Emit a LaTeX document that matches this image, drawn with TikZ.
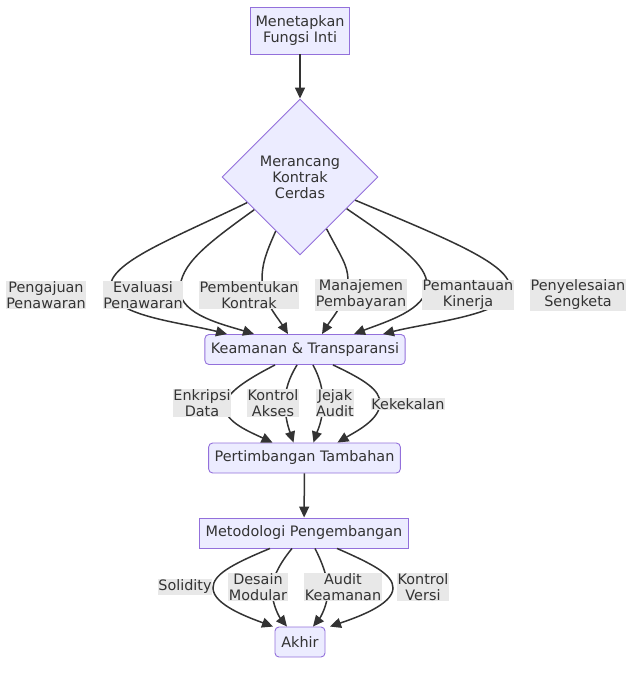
\documentclass[tikz,border=0pt]{standalone}
\usepackage{fontspec}
\setmainfont{DejaVu Sans}
\usetikzlibrary{arrows.meta,positioning,shapes.geometric}
\definecolor{boxfill}{HTML}{ECECFF}
\definecolor{boxline}{HTML}{9370DB}
\definecolor{ink}{HTML}{333333}
\definecolor{tagfill}{HTML}{E8E8E8}
\begin{document}
\begin{tikzpicture}[
  x=1pt, y=-1pt,
  font=\fontsize{14.4}{16}\selectfont, text=ink,
  block/.style={draw=boxline, fill=boxfill, line width=0.9pt, inner xsep=6pt, minimum height=30pt, align=center},
  soft/.style={block, rounded corners=4pt},
  choice/.style={diamond, aspect=1, draw=boxline, fill=boxfill, line width=0.9pt, minimum width=156pt, minimum height=156pt, align=center, inner sep=0pt},
  tag/.style={fill=tagfill, inner sep=0.6pt, align=center},
  line/.style={-{Triangle[length=11pt,width=10pt]}, draw=ink, line width=1.5pt}
]
\useasboundingbox (0,0) rectangle (640,673);

\node[block, minimum height=47pt, inner xsep=5pt] (fungsi) at (300,30.5) {Menetapkan\\Fungsi Inti};
\node[choice] (kontrak) at (300,177) {Merancang\\Kontrak\\Cerdas};
\node[soft, minimum width=200pt] (aman) at (305,349.5) {Keamanan \& Transparansi};
\node[soft, minimum width=191pt] (tambah) at (304.5,458) {Pertimbangan Tambahan};
\node[block, minimum width=208pt] (metode) at (304,533) {Metodologi Pengembangan};
\node[soft, minimum width=50pt] (akhir) at (300,642) {Akhir};

% dari fungsi ke kontrak
\draw[line] (fungsi) -- (kontrak);

% kontrak -> keamanan
\draw[line] (kontrak) .. controls (170,240) and (110,262) .. (110,288)
  .. controls (110,316) and (180,322) .. ([xshift=-78pt]aman.north);
\draw[line] (kontrak) .. controls (205,245) and (180,265) .. (180,290)
  .. controls (180,315) and (225,325) .. ([xshift=-51pt]aman.north);
\draw[line] (kontrak) .. controls (265,255) and (262,265) .. (262,280)
  .. controls (262,300) and (278,318) .. ([xshift=-17pt]aman.north);
\draw[line] (kontrak) .. controls (340,255) and (348,265) .. (348,280)
  .. controls (348,300) and (332,318) .. ([xshift=17pt]aman.north);
\draw[line] (kontrak) .. controls (400,245) and (427,265) .. (427,285)
  .. controls (427,310) and (385,322) .. ([xshift=49pt]aman.north);
\draw[line] (kontrak) .. controls (450,240) and (510,264) .. (510,288)
  .. controls (510,315) and (430,322) .. ([xshift=78pt]aman.north);

% keamanan -> pertimbangan
\draw[line] ([xshift=-30pt]aman.south) .. controls (240,383) and (225,395) .. (225,407)
  .. controls (225,422) and (250,432) .. ([xshift=-32pt]tambah.north);
\draw[line] ([xshift=-8pt]aman.south) .. controls (289,378) and (285,390) .. (285,403)
  .. controls (285,420) and (290,432) .. ([xshift=-11pt]tambah.north);
\draw[line] ([xshift=8pt]aman.south) .. controls (320,378) and (323,390) .. (323,403)
  .. controls (323,420) and (317,432) .. ([xshift=9pt]tambah.north);
\draw[line] ([xshift=28pt]aman.south) .. controls (365,380) and (380,390) .. (380,403)
  .. controls (380,420) and (355,432) .. ([xshift=33pt]tambah.north);

\draw[line] (tambah) -- (metode);

% metodologi -> akhir
\draw[line] ([xshift=-34pt]metode.south) .. controls (230,565) and (213,575) .. (213,588)
  .. controls (213,605) and (250,618) .. ([xshift=-27pt]akhir.north);
\draw[line] ([xshift=-12pt]metode.south) .. controls (280,563) and (272,578) .. (272,590)
  .. controls (272,605) and (280,618) .. ([xshift=-13pt]akhir.north);
\draw[line] ([xshift=11pt]metode.south) .. controls (322,562) and (328,578) .. (328,590)
  .. controls (328,605) and (320,618) .. ([xshift=13pt]akhir.north);
\draw[line] ([xshift=33pt]metode.south) .. controls (375,565) and (393,575) .. (393,588)
  .. controls (393,605) and (355,618) .. ([xshift=30pt]akhir.north);

% label tepi
\node[tag] (ajuan) at (46,295) {Pengajuan\\Penawaran};
\node[tag] (evaluasi) at (143,295) {Evaluasi\\Penawaran};
\node[tag] (bentuk) at (249,295) {Pembentukan\\Kontrak};
\node[tag] (bayar) at (361,295) {Manajemen\\Pembayaran};
\node[tag] (pantau) at (468,295) {Pemantauan\\Kinerja};
\node[tag] (sengketa) at (578,295) {Penyelesaian\\Sengketa};
\node[tag] (enkripsi) at (202,403) {Enkripsi\\Data};
\node[tag] (akses) at (273,403) {Kontrol\\Akses};
\node[tag] (jejak) at (335,403) {Jejak\\Audit};
\node[tag] (kekal) at (408,404) {Kekekalan};
\node[tag] (solidity) at (185,587) {Solidity};
\node[tag] (modular) at (258,587) {Desain\\Modular};
\node[tag] (auditk) at (343,587) {Audit\\Keamanan};
\node[tag] (versi) at (423,587) {Kontrol\\Versi};
\end{tikzpicture}
\end{document}
